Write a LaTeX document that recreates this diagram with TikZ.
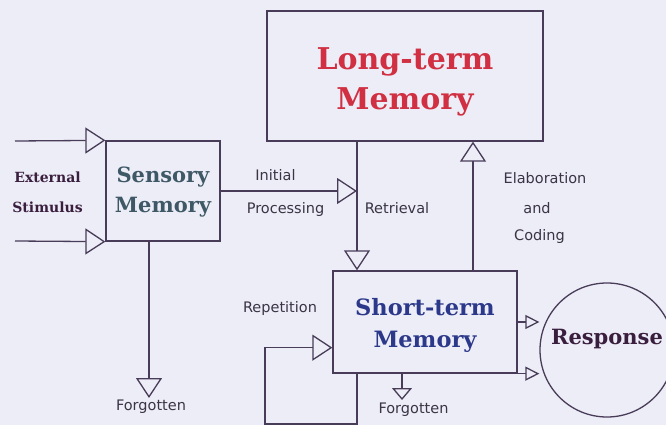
\documentclass[tikz,border=0pt]{standalone}
\usepackage{fontspec}
\setmainfont{DejaVu Serif}
\newfontfamily\labelfont{DejaVu Sans}
\usetikzlibrary{arrows.meta,calc}

\definecolor{paper}{RGB}{237,237,247}
\definecolor{inkline}{RGB}{72,60,88}
\definecolor{ltred}{RGB}{208,48,66}
\definecolor{senscol}{RGB}{62,88,102}
\definecolor{stblue}{RGB}{44,56,138}
\definecolor{darkplum}{RGB}{58,30,62}
\definecolor{labelgray}{RGB}{58,52,68}

\tikzset{
  memorybox/.style={draw=inkline, line width=1.3pt, inner sep=0pt},
  boxtitle/.style={align=center, inner sep=0pt},
  bigarrow/.style={draw=inkline, line width=1.3pt,
    -{Triangle[length=20pt,width=26pt,fill=paper,line width=1.3pt]}},
  smallarrow/.style={draw=inkline, line width=1.3pt,
    -{Triangle[length=12pt,width=20pt,fill=paper,line width=1.3pt]}},
  tinyarrow/.style={draw=inkline, line width=1.3pt,
    -{Triangle[length=14pt,width=14pt,fill=paper,line width=1.3pt]}},
  flowlabel/.style={anchor=base, inner sep=0pt, text=labelgray,
    font=\labelfont\fontsize{14.5}{17}\selectfont},
  stimlabel/.style={anchor=base, inner sep=0pt, text=darkplum,
    font=\bfseries\fontsize{14}{16}\selectfont}
}

\begin{document}
\begin{tikzpicture}[x=1pt,y=-1pt]
  \fill[paper] (0,0) rectangle (666,425);
  \clip (0,0) rectangle (666,425);

  % memory stores
  \node[memorybox, minimum width=276pt, minimum height=130pt,
        label={[boxtitle, text=ltred, font=\bfseries\fontsize{30}{40}\selectfont, yshift=-6pt]center:{Long-term\\Memory}}]
        (ltm) at (405,76) {};
  \node[memorybox, minimum width=114pt, minimum height=100pt,
        label={[boxtitle, text=senscol, font=\bfseries\fontsize{21}{30}\selectfont, yshift=-1pt]center:{Sensory\\Memory}}]
        (sens) at (163,191) {};
  \node[memorybox, minimum width=184pt, minimum height=102pt,
        label={[boxtitle, text=stblue, font=\bfseries\fontsize{22.5}{32}\selectfont, yshift=-3pt]center:{Short-term\\Memory}}]
        (stm) at (425,322) {};
  \node[circle, draw=inkline, line width=1.3pt, minimum size=134pt, inner sep=0pt,
        label={[boxtitle, text=darkplum, font=\bfseries\fontsize{21}{24}\selectfont, yshift=11pt]center:Response}]
        (resp) at (607,350) {};

  % free ends and vertical tracks
  \coordinate (ext1) at (15,141);
  \coordinate (ext2) at (15,241);
  \coordinate (ret) at (357,0);
  \coordinate (elab) at (473,0);
  \coordinate (loopcorner) at (265,424);
  \coordinate (forget1) at (149,398);
  \coordinate (forget2) at (402,400);

  % connectors
  \draw[bigarrow] (ext1) -- (sens.north west);
  \draw[bigarrow] (ext2) -- (sens.south west);
  \draw[bigarrow] (sens.east) -- (ret |- sens.east);
  \draw[bigarrow] (ret |- ltm.south) -- (ret |- stm.north);
  \draw[bigarrow] (elab |- stm.north) -- (elab |- ltm.south);
  \draw[bigarrow] (ret |- stm.south) -- (ret |- loopcorner) -- (loopcorner)
                  |- ($(stm.south west)+(0,-26)$);
  \draw[bigarrow] (forget1 |- sens.south) -- (forget1);
  \draw[smallarrow] (forget2 |- stm.south) -- (forget2);
  \draw[tinyarrow] (stm.east) -- (resp.west |- stm.east);
  \draw[tinyarrow] (stm.south east) -- (resp.west |- stm.south east);

  % labels
  \node[stimlabel] (extlabel) at (47.5,182) {External};
  \node[stimlabel] (stimlabel) at (47.5,212) {Stimulus};
  \node[flowlabel] (initlabel) at (275.5,180) {Initial};
  \node[flowlabel] (proclabel) at (285.5,213) {Processing};
  \node[flowlabel] (retlabel) at (397,213) {Retrieval};
  \node[flowlabel] (elablabel) at (545,183) {Elaboration};
  \node[flowlabel] (andlabel) at (537,213) {and};
  \node[flowlabel] (codlabel) at (539.5,240) {Coding};
  \node[flowlabel] (replabel) at (280,312) {Repetition};
  \node[flowlabel] (forglabel1) at (151,410) {Forgotten};
  \node[flowlabel] (forglabel2) at (413.5,413) {Forgotten};
\end{tikzpicture}
\end{document}
